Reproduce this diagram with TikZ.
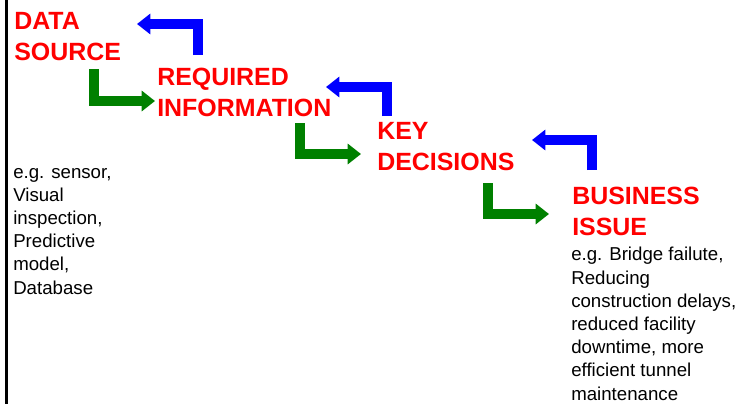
\documentclass[tikz,border=0pt]{standalone}
\usepackage{fontspec}
\setmainfont{Liberation Sans}
\usepackage{tikz}
\usetikzlibrary{arrows.meta}
\definecolor{stepred}{RGB}{255,0,0}
\definecolor{backblue}{RGB}{0,0,255}
\definecolor{fwdgreen}{RGB}{0,128,0}

\begin{document}
\begin{tikzpicture}[x=0.75pt,y=-0.75pt]
  \tikzstyle{title}=[anchor=base west,inner sep=0pt,align=left,text=stepred,font=\fontsize{18.7}{23}\selectfont\bfseries]
  \tikzstyle{note}=[anchor=base west,inner sep=0pt,align=left,font=\fontsize{14}{17.4}\selectfont]
  \tikzstyle{fwd}=[draw=fwdgreen,line width=7.5pt,-{Triangle[length=10pt,width=15pt]}]
  \tikzstyle{back}=[draw=backblue,line width=7.5pt,-{Triangle[length=10pt,width=15pt]}]

  \useasboundingbox (0,0) rectangle (742,404);
  \draw[line width=2.25pt] (6.5,0) -- (6.5,404);

  % placed at the baseline of the last line
  \node[title] (source) at (14,60)  {DATA\\SOURCE};
  \node[title] (info)   at (157,116) {REQUIRED\\INFORMATION};
  \node[title] (decide) at (377,170) {KEY\\DECISIONS};
  \node[title] (issue)  at (572,235) {BUSINESS\\ISSUE};

  \node[note] (srcnote)   at (13,294)  {e.g. sensor,\\Visual\\inspection,\\Predictive\\model,\\Database};
  \node[note] (issuenote) at (571,400) {e.g. Bridge failute,\\Reducing\\construction delays,\\reduced facility\\downtime, more\\efficient tunnel\\maintenance};

  % forward steps
  \coordinate (f1a) at (94,69);   \coordinate (f1b) at (155,101);
  \coordinate (f2a) at (300,123); \coordinate (f2b) at (361,154);
  \coordinate (f3a) at (488,183); \coordinate (f3b) at (549,214);
  % feedback steps
  \coordinate (b1a) at (198,55);  \coordinate (b1b) at (137,24);
  \coordinate (b2a) at (387,116); \coordinate (b2b) at (326,87);
  \coordinate (b3a) at (592,170); \coordinate (b3b) at (532,140);

  \draw[fwd] (f1a) |- (f1b);
  \draw[fwd] (f2a) |- (f2b);
  \draw[fwd] (f3a) |- (f3b);
  \draw[back] (b1a) |- (b1b);
  \draw[back] (b2a) |- (b2b);
  \draw[back] (b3a) |- (b3b);
\end{tikzpicture}
\end{document}
